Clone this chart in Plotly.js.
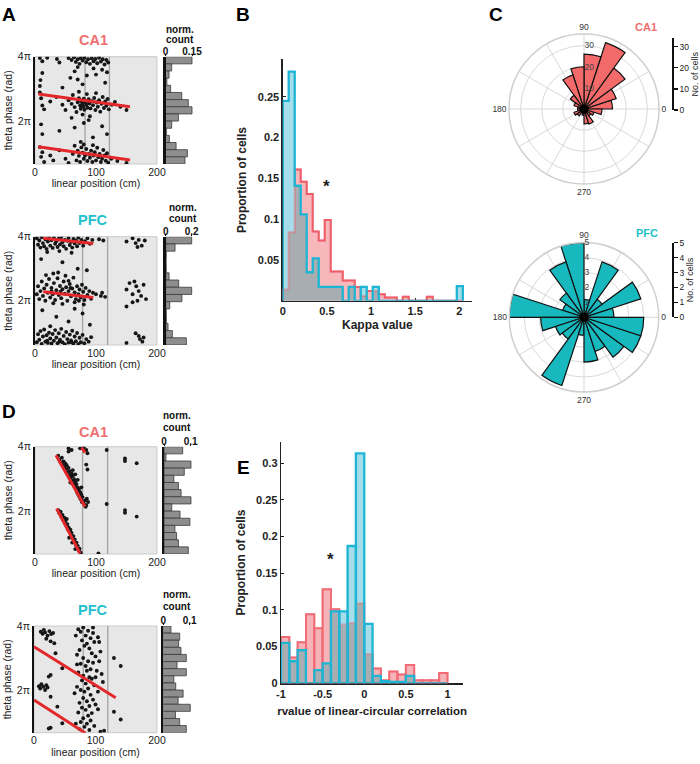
<!DOCTYPE html>
<html><head><meta charset="utf-8">
<script src="https://cdn.plot.ly/plotly-3.0.1.min.js"></script>
<style>html,body{margin:0;padding:0;background:#fff}#chart{width:700px;height:764px}</style>
</head><body><div id="chart"></div>
<script>
// ---------------- DATA ----------------
// Panel A, CA1 example cell (x = linear position cm, y = theta phase in units of pi)
const caA_x = [8,12,20,36,40,55,60,64,67,70,73,75,78,81,84,87,90,93,96,99,102,105,108,111,114,117,120,70,96,110,
 12,9,65,70,85,100,115,118,45,8,78,58,
 8,10,12,15,25,35,45,50,55,60,62,65,68,70,72,74,75,76,78,79,80,81,83,84,86,88,89,91,93,95,97,99,101,103,105,107,109,111,113,115,117,119,121,126,131,140,150,78,90,60,85,100,72,
 10,12,40,65,80,95,110,118,75,88,
 8,10,12,15,25,30,40,50,55,62,65,68,70,72,74,76,78,80,82,84,86,88,90,92,94,96,98,100,102,104,106,108,110,112,114,116,118,120,125,135,150,80,95];
const caA_y = [3.96,3.86,3.97,3.93,3.82,3.96,3.9,3.98,3.84,3.92,3.78,3.96,3.88,3.97,3.83,3.92,3.78,3.95,3.86,3.93,3.8,3.97,3.85,3.92,3.76,3.9,3.82,3.68,3.64,3.6,
 3.5,3.28,3.55,3.3,3.42,3.45,3.2,3.52,3.05,3.1,3.15,3.35,
 2.9,2.72,2.5,2.38,2.62,2.76,2.52,2.36,2.66,2.55,2.82,2.45,2.3,2.6,2.72,2.5,2.4,2.63,2.56,2.47,2.71,2.37,2.6,2.52,2.43,2.69,2.56,2.41,2.63,2.51,2.73,2.36,2.59,2.46,2.66,2.31,2.55,2.76,2.42,2.62,2.49,2.7,2.38,2.52,2.61,2.46,2.36,2.22,2.17,2.12,2.85,2.88,2.92,
 1.92,1.62,1.72,1.82,1.96,1.52,1.86,1.62,1.38,2.05,
 1.22,0.92,1.06,0.76,0.96,0.81,1.12,0.86,0.73,1.01,1.26,0.81,1.11,0.95,0.76,1.21,1.05,0.86,0.96,1.16,0.79,1.01,0.89,1.11,0.76,0.96,1.06,0.81,1.2,0.91,1.01,0.76,0.86,1.13,0.96,0.8,1.03,0.74,0.86,0.79,0.73,1.3,1.28];
const caA_fitX = [[5.5,155.7],[5.5,155.7]];
const caA_fitY = [[2.85,2.46],[1.23,0.82]];
const caA_refX = [82,122];
const caA_hist = [0.15,0.035,0.02,0.008,0.029,0.092,0.129,0.15,0.073,0.035,0.005,0.022,0.06,0.124,0.11];

// Panel A, PFC example cell
const pfcA_x = [3,5,7,9,11,13,15,17,19,21,23,25,27,29,31,33,35,37,39,41,43,45,47,49,51,53,55,57,59,61,63,65,67,69,71,73,76,79,82,86,90,94,40,60,20,105,112,
 10,45,70,30,85,
 3,5,7,9,11,13,15,17,19,21,23,25,27,29,31,33,35,37,39,41,43,45,47,49,51,53,55,57,59,61,63,65,67,69,71,73,75,77,79,81,83,86,89,92,95,38,50,18,65,100,108,115,30,45,80,55,27,42,58,72,
 12,35,55,78,90,25,65,
 3,5,7,9,11,13,15,17,19,21,23,25,27,29,31,33,35,37,39,41,43,45,47,49,51,53,55,57,59,61,63,65,67,69,71,73,75,78,81,84,88,92,20,40,60,
 150,160,165,170,175,180,168,150,155,160,163,166,170,174,178,182,168,160,150,165,170,172,176,150,178,110];
const pfcA_y = [3.95,3.75,3.88,3.66,3.98,3.8,3.7,3.92,3.62,3.85,3.96,3.72,3.89,3.65,3.97,3.78,3.86,3.68,3.94,3.76,3.99,3.83,3.7,3.9,3.62,3.87,3.96,3.74,3.84,3.66,3.93,3.79,3.88,3.7,3.97,3.8,3.9,3.72,3.86,3.95,3.78,3.9,3.55,3.5,3.52,3.92,3.88,
 3.3,3.2,3.0,2.85,2.95,
 2.2,2.45,2.05,2.3,2.6,2.15,2.38,2.0,2.5,2.25,2.68,2.1,2.4,2.2,2.55,2.02,2.33,2.7,2.18,2.46,2.08,2.36,2.6,2.22,2.42,2.0,2.3,2.52,2.14,2.38,2.72,2.26,2.05,2.45,2.2,2.35,2.1,2.5,2.28,2.02,2.4,2.18,2.3,2.06,2.25,2.88,2.78,2.8,1.95,2.2,2.15,2.12,1.92,1.9,1.88,2.62,2.3,2.28,2.4,2.0,
 1.7,1.5,1.35,1.6,1.25,1.2,1.75,
 0.7,0.95,0.78,1.05,0.65,0.88,1.1,0.72,0.92,0.68,1.0,0.82,0.66,0.96,0.75,1.08,0.85,0.67,0.98,0.78,1.12,0.7,0.9,0.64,1.02,0.8,0.69,0.94,0.76,1.06,0.66,0.88,0.73,0.99,0.64,0.84,0.7,0.93,0.67,0.8,0.72,0.86,0.75,0.72,0.7,
 3.85,3.95,3.8,3.9,3.72,3.88,3.68,2.35,2.55,2.2,2.6,2.45,2.3,2.15,2.5,2.05,2.0,1.95,1.82,0.98,0.9,0.8,0.72,0.68,0.85,2.25];
const pfcA_fitX = [[13.7,95.6],[13.7,95.6]];
const pfcA_fitY = [[3.95,3.79],[2.28,2.10]];
const pfcA_refX = [78,119];
const pfcA_hist = [0.2,0.072,0.004,0.003,0.004,0.026,0.1,0.2,0.125,0.031,0.004,0.005,0.018,0.051,0.159];

// Panel D, CA1 example cell
const caD_x = [38,40,42,44,45,47,48,50,51,52,53,55,56,57,58,60,61,62,63,64,65,66,67,68,69,70,71,72,73,74,75,76,77,78,80,82,84,62,70,58,76,66,
 38,40,42,43,45,46,48,49,50,52,53,54,55,57,58,59,60,62,63,64,65,67,68,69,70,72,73,75,56,61,66,52,
 55,55,60,74,84,86,80,
 117.5,117.5,147.5,147.5,166.7,147.5,147.5,166.7,104,
 84,86,85,83,87];
const caD_y = [3.72,3.6,3.52,3.66,3.45,3.55,3.38,3.48,3.3,3.42,3.2,3.35,3.12,3.25,3.05,3.18,2.95,3.1,2.85,3.0,2.78,2.92,2.7,2.85,2.6,2.75,2.52,2.68,2.45,2.6,2.38,2.52,2.3,2.45,2.25,2.35,2.2,3.28,2.98,2.9,2.75,3.15,
 2.05,1.95,2.0,1.85,1.9,1.75,1.82,1.65,1.72,1.55,1.62,1.45,1.52,1.38,1.45,1.28,1.35,1.18,1.25,1.08,1.15,0.98,1.05,0.88,0.95,0.8,0.86,0.74,1.2,1.05,0.85,1.78,
 3.95,3.85,3.9,3.95,3.9,3.8,3.98,
 3.9,2.24,3.64,3.56,3.49,2.05,1.97,1.85,0.72,
 3.45,3.3,2.4,2.15,2.3];
const caD_fitX = [[34.4,82],[35.5,73.8],[76.5,82]];
const caD_fitY = [[3.74,2.15],[2.10,0.72],[3.97,3.82]];
const caD_refX = [78,119];
const caD_hist = [0.07,0.0075,0.101,0.076,0.037,0.054,0.064,0.101,0.029,0.06,0.097,0.041,0.047,0.054,0.091];

// Panel D, PFC example cell
const pfcD_x = [11,14,18,22,25,28,31,20,27,33,16,35,46,
 8,10,12,15,18,20,24,27,22,27,38,46,24,27,
 72,76,80,84,88,92,96,78,86,90,74,82,94,98,100,70,80,88,76,84,92,96,102,72,80,86,90,78,84,94,98,70,76,82,88,92,80,86,74,96,100,78,84,90,72,88,94,80,76,86,92,82,74,90,98,104,106,108,110,112,68,70,96,100,104,66,68,104,
 106,130,141,130,141,108,114];
const pfcD_y = [3.82,3.76,3.8,3.7,3.84,3.75,3.78,3.6,3.52,3.46,3.88,3.15,2.68,
 2.12,2.05,2.18,2.1,2.0,2.15,2.42,2.47,2.08,1.79,1.48,0.96,0.8,0.82,
 3.9,3.82,3.95,3.7,3.85,3.62,3.78,3.55,3.45,3.3,3.25,3.38,3.15,3.5,3.05,3.1,3.0,2.9,2.82,2.75,2.65,2.85,2.6,2.55,2.45,2.6,2.4,2.3,2.2,2.35,2.15,2.1,2.0,1.95,2.05,1.85,1.75,1.65,1.6,1.7,1.55,1.45,1.38,1.5,1.3,1.2,1.28,1.12,1.0,0.95,1.05,0.85,0.78,0.75,0.88,1.4,2.9,3.2,2.5,2.25,3.7,2.8,3.95,2.4,1.95,1.9,0.95,3.65,
 3.5,3.0,2.75,1.32,1.08,0.7,0.73];
const pfcD_fitX = [[0,132.8],[0,84]];
const pfcD_fitY = [[3.35,1.76],[1.69,0.65]];
const pfcD_refX = [80,120];
const pfcD_hist = [0.029,0.062,0.058,0.067,0.087,0.052,0.087,0.04,0.047,0.075,0.056,0.102,0.046,0.062,0.087];

const histBins = [1,2,3,4,5,6,7,8,9,10,11,12,13,14,15];
const posTicks = [0,100,200];
const posTickText = ['0','100','200'];
const phaseTicks = [2,4];
const phaseTickText = ['2π','4π'];

// Panel B: kappa distributions (bin edges, proportion of cells)
const kappaEdges = [0,0.068,0.136,0.204,0.272,0.34,0.408,0.476,0.544,0.612,0.68,0.748,0.816,0.884,0.952,1.02,1.088,1.156,1.224,1.292,1.36,1.428,1.496,1.564,1.632,1.7,1.768,1.836,1.904,1.972,2.04];
const kappaCA1 = [0.014,0.084,0.161,0.146,0.131,0.085,0.074,0.099,0.036,0.036,0.025,0.025,0.017,0.006,0.012,0.012,0.008,0.004,0.004,0,0.005,0,0,0,0.005,0,0,0,0,0];
const kappaPFC = [0.245,0.281,0.141,0.106,0.035,0.052,0.017,0.017,0.017,0.017,0,0.017,0,0.017,0,0.017,0,0,0,0,0,0,0,0,0,0,0,0,0,0.018];
const kappaTicks = [0,0.5,1,1.5,2];
const kappaTickText = ['0','0.5','1','1.5','2'];
const propTicksB = [0.05,0.1,0.15,0.2,0.25];
const propTickTextB = ['0.05','0.1','0.15','0.2','0.25'];

// Panel C: preferred phase rose histograms (bin centre deg, number of cells)
const roseCenters = [9,27,45,63,81,99,117,135,153,171,189,207,225,243,261,279,297,315,333,351];
const roseWidth = 18;
const roseCA1 = [13.5,16,24,33,26,20,17,8,5,3,3,5,4,2,3,7,7.5,4,5,8.5];
const rosePFC = [2,4,1.5,3.9,1.2,5,3.9,2,1.5,5,2.9,2,1.8,4.8,1.2,3,2.4,3.3,4,4];
const angTicks = [0,30,60,90,120,150,180,210,240,270,300,330];
const angTickText = ['0','','','90','','','180','','','270','',''];

// Panel E: r value of linear-circular correlation
const rCenters = [-0.95,-0.85,-0.75,-0.65,-0.55,-0.45,-0.35,-0.25,-0.15,-0.05,0.05,0.15,0.25,0.35,0.45,0.55,0.65,0.75,0.85,0.95];
const rCA1 = [0.063,0.035,0.056,0.094,0.075,0.128,0.101,0.08,0.082,0.109,0.04,0.02,0.004,0.016,0.012,0.025,0.004,0.004,0.004,0.014];
const rPFC = [0.055,0.03,0.045,0,0.018,0.027,0.098,0.098,0.187,0.313,0.081,0.01,0.003,0.002,0.002,0.01,0,0,0,0];
const rTicks = [-1,-0.5,0,0.5,1];
const rTickText = ['-1','-0.5','0','0.5','1'];
const propTicksE = [0,0.05,0.1,0.15,0.2,0.25,0.3];
const propTickTextE = ['0','0.05','0.1','0.15','0.2','0.25','0.3'];

// ---------------- STYLE / LAYOUT ----------------
const FONT = 'Liberation Sans, Arial, Helvetica, sans-serif';
const W = 700, H = 764;
const dX = (a,b)=>[a/W,b/W];
const dY = (top,bot)=>[1-bot/H,1-top/H];
const RED = '#F06E70', CYAN = '#22BFCC';

const traces = [];
const layout = {
  width:W, height:H, margin:{l:0,r:0,t:0,b:0}, showlegend:false,
  paper_bgcolor:'#ffffff', plot_bgcolor:'rgba(0,0,0,0)',
  font:{family:FONT, color:'#222'}, barmode:'overlay', bargap:0,
  shapes:[], annotations:[]
};
const key = (p,n)=> p + (n===1?'':n);
const ref = (p,n)=> p + (n===1?'':n);

function scatterPanel(n, xs, ys, fitX, fitY, refX, xd, yd, yr){
  const xa = ref('x',n), ya = ref('y',n);
  layout.shapes.push({type:'rect', xref:xa+' domain', yref:ya+' domain', x0:0,x1:1,y0:0,y1:1,
    fillcolor:'#E7E7E7', line:{color:'#CBCBCB', width:1}, layer:'below'});
  refX.forEach(v=>layout.shapes.push({type:'line', xref:xa, yref:ya+' domain', x0:v,x1:v,y0:0,y1:1,
    line:{color:'#A3A3A3', width:1.3}, layer:'below'}));
  traces.push({type:'scatter', mode:'markers', x:xs, y:ys, xaxis:xa, yaxis:ya,
    marker:{size:3.9, color:'#161616'}, hoverinfo:'skip', cliponaxis:true});
  fitX.forEach((fx,i)=>traces.push({type:'scatter', mode:'lines', x:fx, y:fitY[i], xaxis:xa, yaxis:ya,
    line:{color:'#E3282C', width:3}, hoverinfo:'skip'}));
  layout[key('xaxis',n)] = {domain:xd, range:[0,200], anchor:ya, tickvals:posTicks, ticktext:posTickText,
    showline:false, showgrid:false, zeroline:false, ticks:'',
    tickfont:{family:FONT,size:10.5,color:'#222'},
    title:{text:'linear position (cm)', font:{family:FONT,size:10.5,color:'#222'}, standoff:0}};
  layout[key('yaxis',n)] = {domain:yd, range:yr, anchor:xa, tickvals:phaseTicks, ticktext:phaseTickText,
    showline:true, linecolor:'#111', linewidth:2, ticks:'', showgrid:false, zeroline:false,
    tickfont:{family:FONT,size:10.5,color:'#222'},
    title:{text:'theta phase (rad)', font:{family:FONT,size:10.5,color:'#222'}, standoff:3}};
}
function histPanel(n, vals, xd, yd, xmax, tv, tt){
  const xa = ref('x',n), ya = ref('y',n);
  traces.push({type:'bar', orientation:'h', x:vals, y:histBins, width:1, xaxis:xa, yaxis:ya,
    marker:{color:'#8E8E8E', line:{color:'#3A3A3A', width:0.8}}, hoverinfo:'skip'});
  layout[key('xaxis',n)] = {domain:xd, range:[0,xmax], anchor:ya, side:'top', tickvals:tv, ticktext:tt,
    ticks:'outside', ticklen:2, tickcolor:'#111', ticklabelstandoff:-5, showline:false, showgrid:false, zeroline:false,
    tickfont:{family:FONT,size:10,color:'#111',weight:'bold'}};
  layout[key('yaxis',n)] = {domain:yd, range:[15.5,0.5], anchor:xa, showline:true, linecolor:'#111',
    linewidth:2.5, ticks:'', showticklabels:false, showgrid:false, zeroline:false};
}

scatterPanel(1, caA_x, caA_y, caA_fitX, caA_fitY, caA_refX, dX(35,157), dY(56.7,164), [0.70,4]);
histPanel(2, caA_hist, dX(165.5,194), dY(56.7,164), 0.1613, [0,0.15], ['0','0.15']);
scatterPanel(3, pfcA_x, pfcA_y, pfcA_fitX, pfcA_fitY, pfcA_refX, dX(35,157), dY(236.7,345), [0.615,4]);
histPanel(4, pfcA_hist, dX(165.7,194), dY(236.7,345), 0.2177, [0,0.2], ['0','0.2']);
scatterPanel(6, caD_x, caD_y, caD_fitX, caD_fitY, caD_refX, dX(35,157), dY(446.7,554), [0.70,4]);
histPanel(7, caD_hist, dX(164,193), dY(446.7,554), 0.1086, [0,0.1], ['0','0.1']);
scatterPanel(8, pfcD_x, pfcD_y, pfcD_fitX, pfcD_fitY, pfcD_refX, dX(34,157), dY(626,732.7), [0.667,4]);
histPanel(9, pfcD_hist, dX(163.3,193), dY(626,732.7), 0.1124, [0,0.1], ['0','0.1']);

// ---- Panel B: step histograms ----
function stepXY(edges, vals){
  const x=[edges[0]], y=[0];
  vals.forEach((v,i)=>{x.push(edges[i]); y.push(v);});
  x.push(edges[edges.length-1]); y.push(0);
  return {x,y};
}
const kRed = stepXY(kappaEdges, kappaCA1);
const kCyan = stepXY(kappaEdges, kappaPFC);
const kMin = stepXY(kappaEdges, kappaCA1.map((v,i)=>Math.min(v,kappaPFC[i])));
const stepBase = {type:'scatter', mode:'lines', xaxis:'x5', yaxis:'y5', hoverinfo:'skip'};
traces.push(Object.assign({}, stepBase, {x:kRed.x, y:kRed.y, fill:'tozeroy', fillcolor:'#F7B8BC', line:{shape:'hv', color:'#EE5F6B', width:2}}));
traces.push(Object.assign({}, stepBase, {x:kCyan.x, y:kCyan.y, fill:'tozeroy', fillcolor:'#A6DDEA', line:{shape:'hv', color:'rgba(0,0,0,0)', width:0}}));
traces.push(Object.assign({}, stepBase, {x:kMin.x, y:kMin.y, fill:'tozeroy', fillcolor:'#A8ADB1', line:{shape:'hv', color:'rgba(0,0,0,0)', width:0}}));
traces.push(Object.assign({}, stepBase, {x:kRed.x, y:kRed.y, line:{shape:'hv', color:'rgba(238,95,107,0.45)', width:2}}));
traces.push(Object.assign({}, stepBase, {x:kCyan.x, y:kCyan.y, line:{shape:'hv', color:'#1DB5D3', width:2.3}}));
const boldTick = {family:FONT,size:11,color:'#222',weight:'bold'};
const boldTitle = {family:FONT,size:12,color:'#222',weight:'bold'};
layout.xaxis5 = {domain:dX(282.7,472), range:[0,2.144], anchor:'y5', tickvals:kappaTicks, ticktext:kappaTickText,
  ticks:'inside', ticklen:3, tickcolor:'#222', showline:true, linecolor:'#222', linewidth:1.3, layer:'below traces',
  showgrid:false, zeroline:false, tickfont:boldTick, title:{text:'Kappa value', font:boldTitle, standoff:4}};
layout.yaxis5 = {domain:dY(59.3,300.8), range:[0,0.296], anchor:'x5', tickvals:propTicksB, ticktext:propTickTextB,
  ticks:'inside', ticklen:3, tickcolor:'#222', showline:true, linecolor:'#222', linewidth:1.3, layer:'below traces',
  showgrid:false, zeroline:false, tickfont:boldTick, title:{text:'Proportion of cells', font:boldTitle, standoff:8}};

// ---- Panel E: bars ----
const rMin = rCA1.map((v,i)=>Math.min(v,rPFC[i]));
const barBase = {type:'bar', x:rCenters, width:0.1, xaxis:'x10', yaxis:'y10', hoverinfo:'skip'};
traces.push(Object.assign({}, barBase, {y:rCA1, marker:{color:'#F6B4B8', line:{color:'#EF6B75', width:2}}}));
traces.push(Object.assign({}, barBase, {y:rPFC, marker:{color:'#A6DDEA', line:{color:'rgba(0,0,0,0)', width:0}}}));
traces.push(Object.assign({}, barBase, {y:rMin, marker:{color:'#A8ADB1', line:{color:'rgba(0,0,0,0)', width:0}}}));
traces.push(Object.assign({}, barBase, {y:rCA1, marker:{color:'rgba(0,0,0,0)', line:{color:'rgba(239,107,117,0.4)', width:2}}}));
traces.push(Object.assign({}, barBase, {y:rPFC, marker:{color:'rgba(0,0,0,0)', line:{color:'#1DB5D3', width:2.3}}}));
layout.xaxis10 = {domain:dX(281,463.3), range:[-1,1.19], anchor:'y10', tickvals:rTicks, ticktext:rTickText,
  ticks:'inside', ticklen:3, tickcolor:'#222', showline:true, linecolor:'#222', linewidth:1.3, layer:'below traces',
  showgrid:false, zeroline:false, tickfont:boldTick,
  title:{text:'rvalue of linear-circular correlation', font:{family:FONT,size:11.5,color:'#222',weight:'bold'}, standoff:8}};
layout.yaxis10 = {domain:dY(441.7,683.3), range:[0,0.329], anchor:'x10', tickvals:propTicksE, ticktext:propTickTextE,
  ticks:'inside', ticklen:3, tickcolor:'#222', showline:true, linecolor:'#222', linewidth:1.3, layer:'below traces',
  showgrid:false, zeroline:false, tickfont:boldTick, title:{text:'Proportion of cells', font:boldTitle, standoff:8}};

// ---- Panel C: polar rose plots ----
traces.push({type:'barpolar', r:roseCA1, theta:roseCenters, width:roseWidth, subplot:'polar',
  marker:{color:'#F26A6A', line:{color:'#111', width:1.2}}, hoverinfo:'skip'});
traces.push({type:'scatterpolar', r:[0], theta:[0], mode:'markers', subplot:'polar', marker:{size:9,color:'#000'}, hoverinfo:'skip'});
traces.push({type:'barpolar', r:rosePFC, theta:roseCenters, width:roseWidth, subplot:'polar2',
  marker:{color:'#17B8BE', line:{color:'#111', width:1.2}}, hoverinfo:'skip'});
traces.push({type:'scatterpolar', r:[0], theta:[0], mode:'markers', subplot:'polar2', marker:{size:9,color:'#000'}, hoverinfo:'skip'});
function polarLayout(xd, yd, rmax, rticks){
  return {domain:{x:xd, y:yd}, bgcolor:'rgba(0,0,0,0)',
    radialaxis:{range:[0,rmax], tickvals:rticks, angle:90, tickangle:90, side:'clockwise', showline:false, ticks:'',
      gridcolor:'#D9D9D9', gridwidth:1, tickfont:{family:FONT,size:8.5,color:'#444'}},
    angularaxis:{rotation:0, direction:'counterclockwise', tickvals:angTicks, ticktext:angTickText, ticks:'',
      gridcolor:'#D9D9D9', gridwidth:1, showline:true, linecolor:'#CFCFCF', linewidth:1.5,
      tickfont:{family:FONT,size:8.5,color:'#333'}}};
}
layout.polar = polarLayout(dX(509,659), dY(34,184), 35.5, [10,20,30]);
layout.polar2 = polarLayout(dX(509.3,658.7), dY(242.6,392), 5, [1,2,3,4,5]);

// scale bars beside the rose plots
traces.push({type:'scatter', x:[null], y:[null], xaxis:'x11', yaxis:'y11', hoverinfo:'skip'});
traces.push({type:'scatter', x:[null], y:[null], xaxis:'x12', yaxis:'y12', hoverinfo:'skip'});
function scaleBar(n, yd, rmax, tv){
  layout['xaxis'+n] = {domain:dX(670.5,672), range:[0,1], anchor:'y'+n, visible:false};
  layout['yaxis'+n] = {domain:yd, range:[0,rmax], anchor:'x'+n, side:'right', tickvals:tv,
    showline:true, linecolor:'#111', linewidth:1.8, ticks:'outside', ticklen:4, tickwidth:1.3, tickcolor:'#111',
    showgrid:false, zeroline:false, tickfont:{family:FONT,size:8.5,color:'#222'},
    title:{text:'No. of cells', font:{family:FONT,size:9,color:'#222'}, standoff:3}};
}
scaleBar(11, dY(38.3,110), 34, [0,10,20,30]);
scaleBar(12, dY(242.7,317.3), 5, [0,1,2,3,4,5]);

// ---- text annotations ----
function ann(text, x, y, size, color, bold){
  layout.annotations.push({text, x:x/W, y:1-y/H, xref:'paper', yref:'paper', showarrow:false,
    xanchor:'center', yanchor:'middle', font:{family:FONT, size, color, weight: bold?'bold':'normal'}});
}
ann('A', 8.5, 14, 19, '#000', true);
ann('B', 243, 15, 19, '#000', true);
ann('C', 496, 14.5, 19, '#000', true);
ann('D', 8.5, 411, 19, '#000', true);
ann('E', 243, 467, 19, '#000', true);
ann('CA1', 93, 40, 14.5, RED, true);
ann('PFC', 93, 220, 14.5, CYAN, true);
ann('CA1', 93, 431.7, 14.5, RED, true);
ann('PFC', 93, 610, 14.5, CYAN, true);
ann('CA1', 646, 27, 11, RED, true);
ann('PFC', 647, 233.3, 11, CYAN, true);
ann('norm.', 180, 29, 10, '#111', true);
ann('count', 180, 39, 10, '#111', true);
ann('norm.', 183, 207.5, 10, '#111', true);
ann('count', 183, 218.5, 10, '#111', true);
ann('norm.', 177, 415, 10, '#111', true);
ann('count', 177, 427, 10, '#111', true);
ann('norm.', 177, 594, 10, '#111', true);
ann('count', 177, 606.5, 10, '#111', true);
ann('*', 326, 186, 17, '#222', true);
ann('*', 330, 559, 17, '#222', true);

Plotly.newPlot('chart', traces, layout, {displayModeBar:false, staticPlot:true});
</script></body></html>
